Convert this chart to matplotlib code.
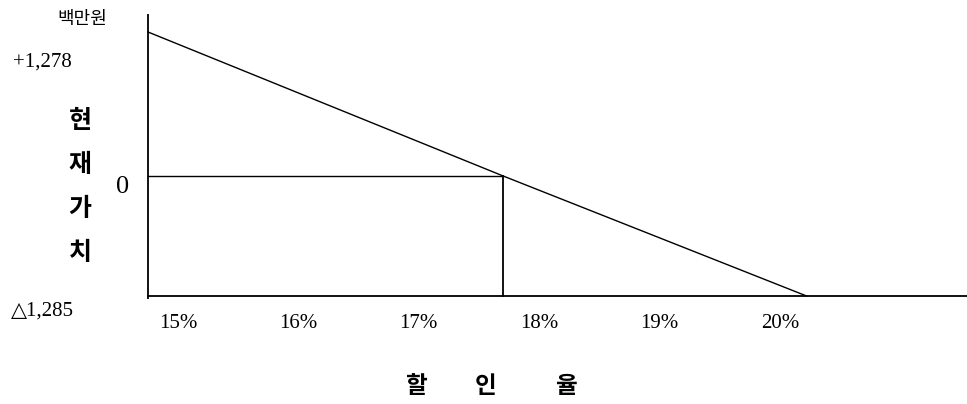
import numpy as np
import matplotlib
matplotlib.use("Agg")
import matplotlib.pyplot as plt
from matplotlib.transforms import offset_copy

# NPV profile (백만원) against discount rate (%)
rates = [15.0, 17.95, 20.47]
npv = [1278, 0, -1285]
irr = rates[1]
tick_rates = [15, 16, 17, 18, 19, 20]
tick_labels = ["15%", "16%", "17%", "18%", "19%", "20%"]
npv_labels = ["+1,278", "0", "\u25b31,285"]

W, H = 967, 404
fig = plt.figure(figsize=(W / 100, H / 100), dpi=100)
ax = fig.add_axes([0, 0, 1, 1])

# schematic vertical scale: positive and negative halves drawn with their own spans
up, dn = npv[0], -npv[2]
def fwd(y):
    y = np.asarray(y, dtype=float)
    return np.where(y >= 0, y / up * 144.0, y / dn * 120.0)
def inv(v):
    v = np.asarray(v, dtype=float)
    return np.where(v >= 0, v / 144.0 * up, v / 120.0 * dn)
ax.set_yscale("function", functions=(fwd, inv))

px_per_pct = 120.4
x0 = rates[0] - 148 / px_per_pct
ax.set_xlim(x0, x0 + W / px_per_pct)
ax.set_ylim(float(inv(-228.0)), float(inv(176.0)))
ax.axis("off")

ytop = float(inv(162.0))
ybot = float(inv(-123.0))
k = "black"
# axes frame
ax.plot([rates[0], rates[0]], [ybot, ytop], color=k, lw=1.3, solid_capstyle="butt")
ax.plot([rates[0], ax.get_xlim()[1]], [npv[2], npv[2]], color=k, lw=1.3)
# NPV line and IRR guide lines
ax.plot(rates, npv, color=k, lw=1.0)
ax.plot([rates[0], irr], [0, 0], color=k, lw=1.0)
ax.plot([irr, irr], [0, npv[2]], color=k, lw=1.3)

serif = ["Liberation Serif", "DejaVu Serif"]
kr = ["Noto Sans CJK KR", "DejaVu Sans"]

# rate labels along the bottom
tick_tr = offset_copy(ax.transData, fig=fig, x=30, y=-27, units="dots")
for r, lab in zip(tick_rates, tick_labels):
    ax.text(r, npv[2], lab, transform=tick_tr, ha="center", va="center",
            fontsize=15, family=serif)

# value labels on the left
offs = [(-106, -30), (-25, -11), (-106, -15)]
sizes = [15, 19, 15]
for v, lab, (dx, dy), fs in zip(npv, npv_labels, offs, sizes):
    tr = offset_copy(ax.transData, fig=fig, x=dx, y=dy, units="dots")
    ax.text(rates[0], v, lab, transform=tr, ha="center", va="center",
            fontsize=fs, family=serif)

# unit and axis titles
fig.text(82 / W, 1 - 19 / H, "백만원", ha="center", va="center", fontsize=13, family=kr)
for i, ch in enumerate("현재가치"):
    fig.text(80 / W, 1 - (121 + i * 44) / H, ch, ha="center", va="center",
             fontsize=18, fontweight="bold", family=kr)
for xc, ch in zip([417, 486, 566], "할인율"):
    fig.text(xc / W, 1 - 386 / H, ch, ha="center", va="center",
             fontsize=17, fontweight="bold", family=kr)

fig.savefig("out.png", dpi=100, facecolor="white")
